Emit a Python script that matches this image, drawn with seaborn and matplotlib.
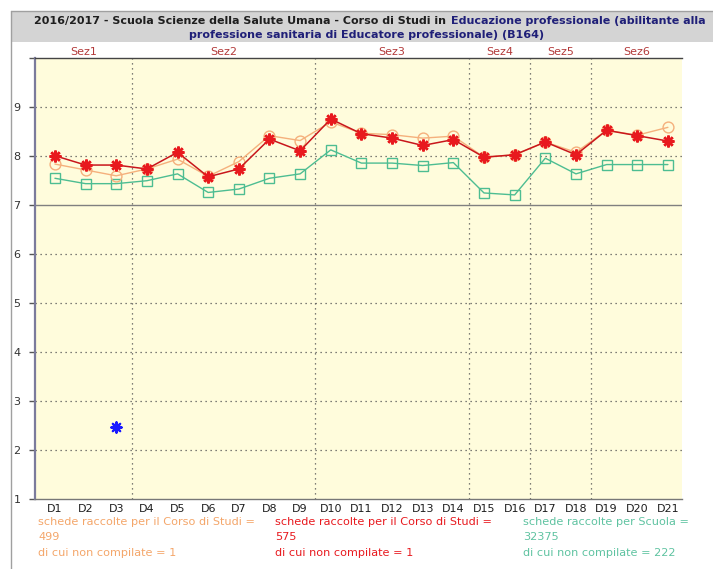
import numpy as np
import pandas as pd
import matplotlib
matplotlib.use("Agg")
import matplotlib.pyplot as plt
import matplotlib.transforms as mtransforms
import seaborn as sns
from matplotlib.offsetbox import TextArea, HPacker, AnchoredOffsetbox
from matplotlib.patches import Rectangle
from matplotlib.lines import Line2D

# ---- data -------------------------------------------------------------
questions = [f"D{i}" for i in range(1, 22)]
sections = ["Sez1", "Sez2", "Sez3", "Sez4", "Sez5", "Sez6"]
section_sizes = [3, 6, 5, 2, 2, 3]

cds_prev = [7.84, 7.72, 7.60, 7.74, 7.94, 7.59, 7.89, 8.42, 8.32, 8.70, 8.47,
            8.44, 8.37, 8.41, 7.98, 8.03, 8.29, 8.08, 8.53, 8.43, 8.59]
cds_curr = [8.01, 7.82, 7.82, 7.74, 8.08, 7.58, 7.74, 8.35, 8.11, 8.76, 8.46,
            8.37, 8.22, 8.34, 7.98, 8.03, 8.29, 8.03, 8.53, 8.42, 8.31]
scuola = [7.55, 7.44, 7.44, 7.50, 7.64, 7.26, 7.33, 7.55, 7.64, 8.13, 7.86,
          7.86, 7.81, 7.87, 7.25, 7.21, 7.96, 7.64, 7.83, 7.83, 7.83]
extra_questions = ["D3"]
extra_values = [2.47]

y_ticks = [1, 2, 3, 4, 5, 6, 7, 8, 9, 10]
y_labels = ["1", "2", "3", "4", "5", "6", "7", "8", "9", ""]

title_black = "2016/2017 - Scuola Scienze della Salute Umana - Corso di Studi in"
title_blue_1 = "Educazione professionale (abilitante alla"
title_blue_2 = "professione sanitaria di Educatore professionale) (B164)"

count_labels = ["schede raccolte per il Corso di Studi =",
                "schede raccolte per il Corso di Studi =",
                "schede raccolte per Scuola ="]
count_values = [499, 575, 32375]
empty_values = [1, 1, 222]

# ---- styles -----------------------------------------------------------
C_ORANGE = "#f5b07c"
C_ORANGE_TXT = "#f4a66a"
C_RED = "#e8191e"
C_RED_LINE = "#c8161b"
C_GREEN = "#4dbd92"
C_GREEN_TXT = "#5fc3a1"
C_BLUE = "#1a1aff"
C_NAVY = "#1f1f78"
C_SEZ = "#b33a3a"

sns.set_theme(style="white")
plt.rcParams["font.family"] = ["DejaVu Sans"]

W, H = 713, 569
fig = plt.figure(figsize=(W / 100, H / 100), dpi=100)
fig.patch.set_facecolor("white")


def fx(px):
    return px / W


def fy(py):
    return 1 - py / H


# outer frame and header band
fig.add_artist(Rectangle((fx(12), fy(42)), fx(713) - fx(12), fy(11.5) - fy(42),
                         transform=fig.transFigure, facecolor="#d4d4d4",
                         edgecolor="none", zorder=0))
fig.add_artist(Line2D([fx(11), fx(11)], [fy(11), 0], transform=fig.transFigure,
                      color="#a0a0a0", lw=1))
fig.add_artist(Line2D([fx(11), 1], [fy(11), fy(11)], transform=fig.transFigure,
                      color="#a0a0a0", lw=1))

# title (two lines, two colours)
tprops = dict(fontweight="bold", fontsize=8.05)
line1 = HPacker(children=[TextArea(title_black, textprops=dict(color="#1e1e1e", **tprops)),
                          TextArea(title_blue_1, textprops=dict(color=C_NAVY, **tprops))],
                align="baseline", pad=0, sep=4)
box1 = AnchoredOffsetbox(loc="center", child=line1, pad=0, borderpad=0, frameon=False,
                         bbox_to_anchor=(fx(370), fy(21)), bbox_transform=fig.transFigure)
fig.add_artist(box1)
fig.text(fx(367), fy(34.5), title_blue_2, color=C_NAVY, ha="center", va="center", **tprops)

# plot area
ax = fig.add_axes([fx(35), fy(499), fx(682) - fx(35), fy(58.3) - fy(499)])
ax.set_facecolor("#fffcdc")
xpos = np.arange(len(questions))

ax.set_xlim(-0.65, 20.46)
ax.set_ylim(1, 10)

# horizontal reference lines
for yv in y_ticks[1:-1]:
    if yv == 7:
        ax.axhline(yv, color="#808080", lw=1.0, zorder=1)
    else:
        ax.axhline(yv, color="#555555", lw=0.9, ls=(0, (1, 3)), zorder=1)

# section dividers and labels
bounds = np.cumsum(section_sizes) - 0.5
for b in bounds[:-1]:
    ax.axvline(b, color="#555555", lw=0.9, ls=(0, (1, 3)), zorder=1)
edges = [ax.get_xlim()[0]] + list(bounds[:-1]) + [ax.get_xlim()[1]]
trans = mtransforms.blended_transform_factory(ax.transData, ax.transAxes)
for name, a, b in zip(sections, edges[:-1], edges[1:]):
    ax.annotate(name, xy=((a + b) / 2, 1), xycoords=trans, xytext=(0, 4.6),
                textcoords="offset points", ha="center", va="center",
                color=C_SEZ, fontsize=8, annotation_clip=False)

# series
sns.lineplot(x=xpos, y=scuola, ax=ax, color=C_GREEN, lw=1.0, marker="s",
             markersize=7, markerfacecolor="none", markeredgecolor=C_GREEN,
             markeredgewidth=1.0, zorder=3)
sns.lineplot(x=xpos, y=cds_prev, ax=ax, color=C_ORANGE, lw=1.0, marker="o",
             markersize=7.8, markerfacecolor="none", markeredgecolor=C_ORANGE,
             markeredgewidth=1.0, zorder=4)
sns.lineplot(x=xpos, y=cds_curr, ax=ax, color=C_RED_LINE, lw=1.1, marker=(8, 2, 0),
             markersize=8.5, markerfacecolor=C_RED, markeredgecolor=C_RED,
             markeredgewidth=1.8, zorder=5)
extra_x = [questions.index(q) for q in extra_questions]
sns.scatterplot(x=extra_x, y=extra_values, ax=ax, marker=(8, 2, 0), s=55,
                color=C_BLUE, edgecolor=C_BLUE, linewidth=1.6, zorder=6)

# axes cosmetics
ax.set_xticks(xpos)
ax.set_xticklabels(questions)
ax.set_yticks(y_ticks)
ax.set_yticklabels(y_labels)
ax.tick_params(axis="x", length=0, pad=3.5, labelsize=8, labelcolor="#1e1e1e")
ax.tick_params(axis="y", length=4.5, width=1, color="#555555", pad=6,
               labelsize=8, labelcolor="#333333", direction="out", left=True)
ax.spines["right"].set_visible(False)
ax.spines["left"].set_color("#7b7b9c")
ax.spines["left"].set_linewidth(1.6)
ax.spines["bottom"].set_color("#777777")
ax.spines["bottom"].set_linewidth(1.0)
ax.spines["top"].set_color("#444444")
ax.spines["top"].set_linewidth(1.0)
ax.set_xlabel("")
ax.set_ylabel("")
ax.grid(False)

# counts below the chart
cols_x = [38, 275, 523]
cols_c = [C_ORANGE_TXT, C_RED, C_GREEN_TXT]
for x0, col, lab, n, e in zip(cols_x, cols_c, count_labels, count_values, empty_values):
    for row, txt in enumerate([lab, str(n), f"di cui non compilate = {e}"]):
        fig.text(fx(x0), fy(522 + 15.5 * row), txt, color=col, fontsize=8.1,
                 ha="left", va="center")

fig.savefig("out.png", dpi=100)
